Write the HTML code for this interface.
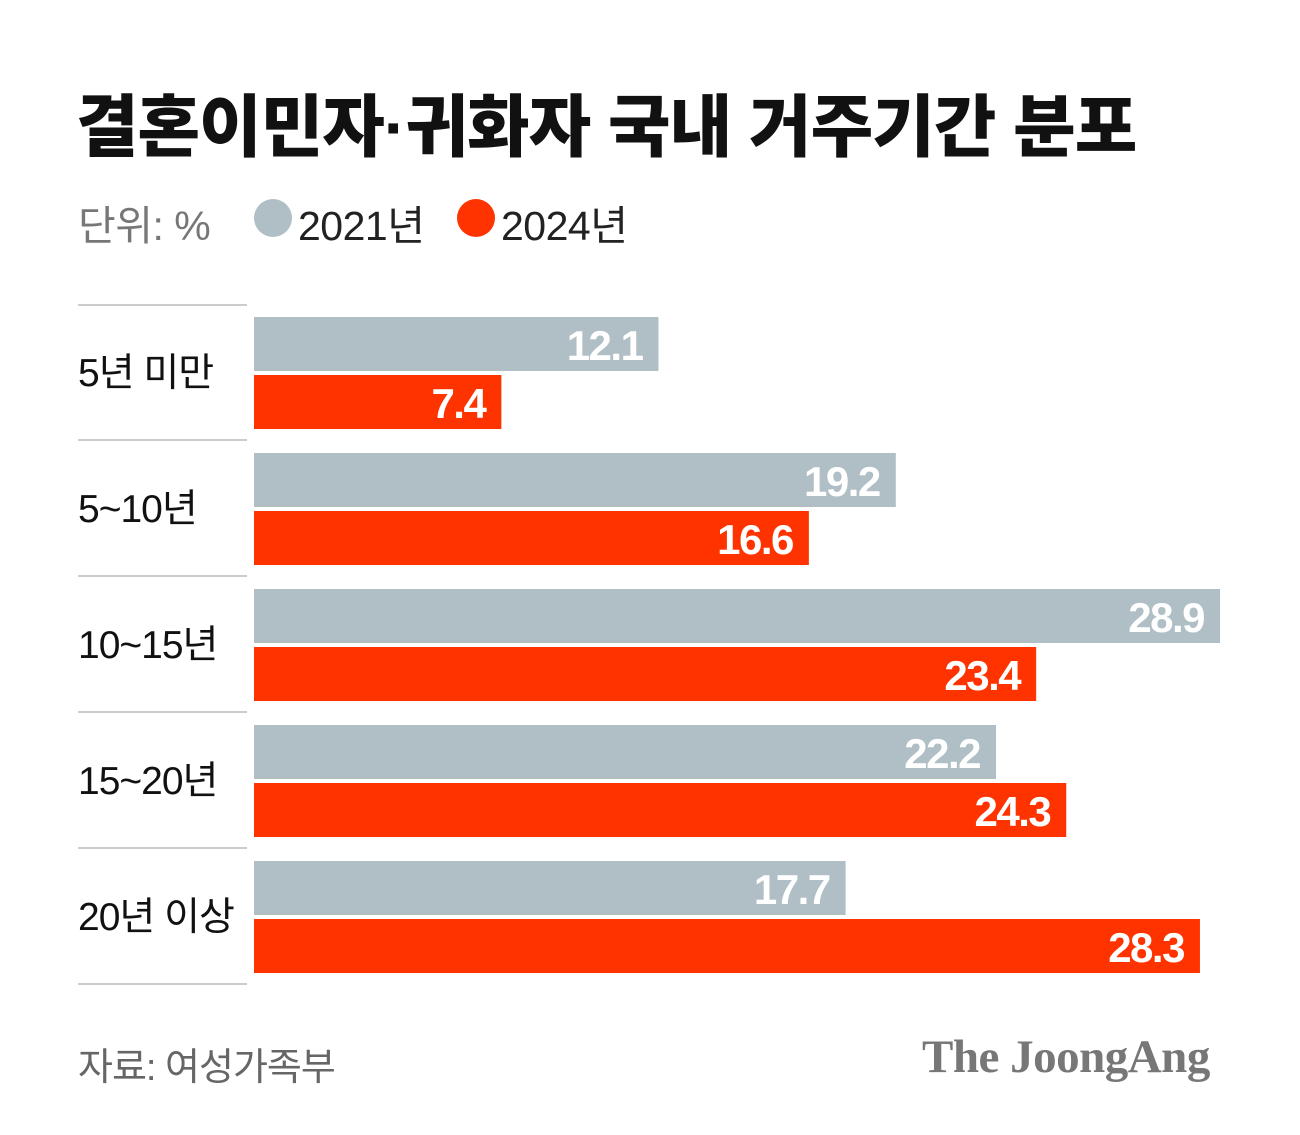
<!DOCTYPE html>
<html><head><meta charset="utf-8">
<style>
body{margin:0;background:#fff;width:1300px;height:1135px;overflow:hidden;font-family:"Liberation Sans","Noto Sans CJK KR",sans-serif;}
#title{position:absolute;left:76px;top:72px;font-size:68px;font-weight:900;color:#111;letter-spacing:-1px;white-space:nowrap;}
.leg{position:absolute;top:192px;font-size:41px;color:#222;letter-spacing:-0.5px;}
.dot{position:absolute;top:199px;width:38px;height:38px;border-radius:50%;}
#src{position:absolute;left:78px;top:1036px;font-size:38px;color:#666;letter-spacing:-1px;}
#logo{position:absolute;left:922px;top:1030px;font-family:"Liberation Serif",serif;font-weight:bold;font-size:47px;color:#777;letter-spacing:-0.5px;white-space:nowrap;}
</style></head><body>
<div id="title">결혼이민자·귀화자 국내 거주기간 분포</div>
<div class="leg" style="left:78px;color:#777">단위: %</div>
<div class="dot" style="left:254px;background:#b0bec5"></div>
<div class="leg" style="left:298px">2021년</div>
<div class="dot" style="left:457px;background:#ff3300"></div>
<div class="leg" style="left:501px">2024년</div>
<svg id="chart" width="1300" height="1135" style="position:absolute;left:0;top:0"></svg>
<div id="src">자료: 여성가족부</div>
<div id="logo">The JoongAng</div>
<script>
const categories=["5년 미만","5~10년","10~15년","15~20년","20년 이상"];
const values2021=[12.1,19.2,28.9,22.2,17.7];
const values2024=[7.4,16.6,23.4,24.3,28.3];
const x0=254, pxPerUnit=966/28.9, top0=317, groupStep=136, barH=54;
const xScale=v=>x0+v*pxPerUnit;
const svg=document.getElementById('chart');
const NS='http://www.w3.org/2000/svg';
function mk(tag,attrs){const e=document.createElementNS(NS,tag);for(const k in attrs)e.setAttribute(k,attrs[k]);svg.appendChild(e);return e;}
for(let i=0;i<=categories.length;i++){
  const l=mk('line',{x1:78,x2:247,y1:305+i*groupStep-(i>0?1:0),y2:305+i*groupStep-(i>0?1:0),stroke:'#ccc','stroke-width':2});
  
  
}
categories.forEach((c,i)=>{
  const gy=top0+i*groupStep;
  const t=mk('text',{x:78,y:gy+69,'font-size':39,fill:'#111','letter-spacing':'-1'});
  t.textContent=c;
  
  
  [[values2021[i],'#b0bec5',gy,'bar-2021'],[values2024[i],'#ff3300',gy+58,'bar-2024']].forEach(([v,col,y,nm])=>{
    const r=mk('rect',{x:x0,y:y,width:xScale(v)-x0,height:barH,fill:col});
    
    
    const vt=mk('text',{x:xScale(v)-16,y:y+43,'text-anchor':'end','font-size':42,'font-weight':'bold',fill:'#fff','letter-spacing':'-1.5'});
    vt.textContent=v.toFixed(1);
    
    
  });
});
</script>
</body></html>
